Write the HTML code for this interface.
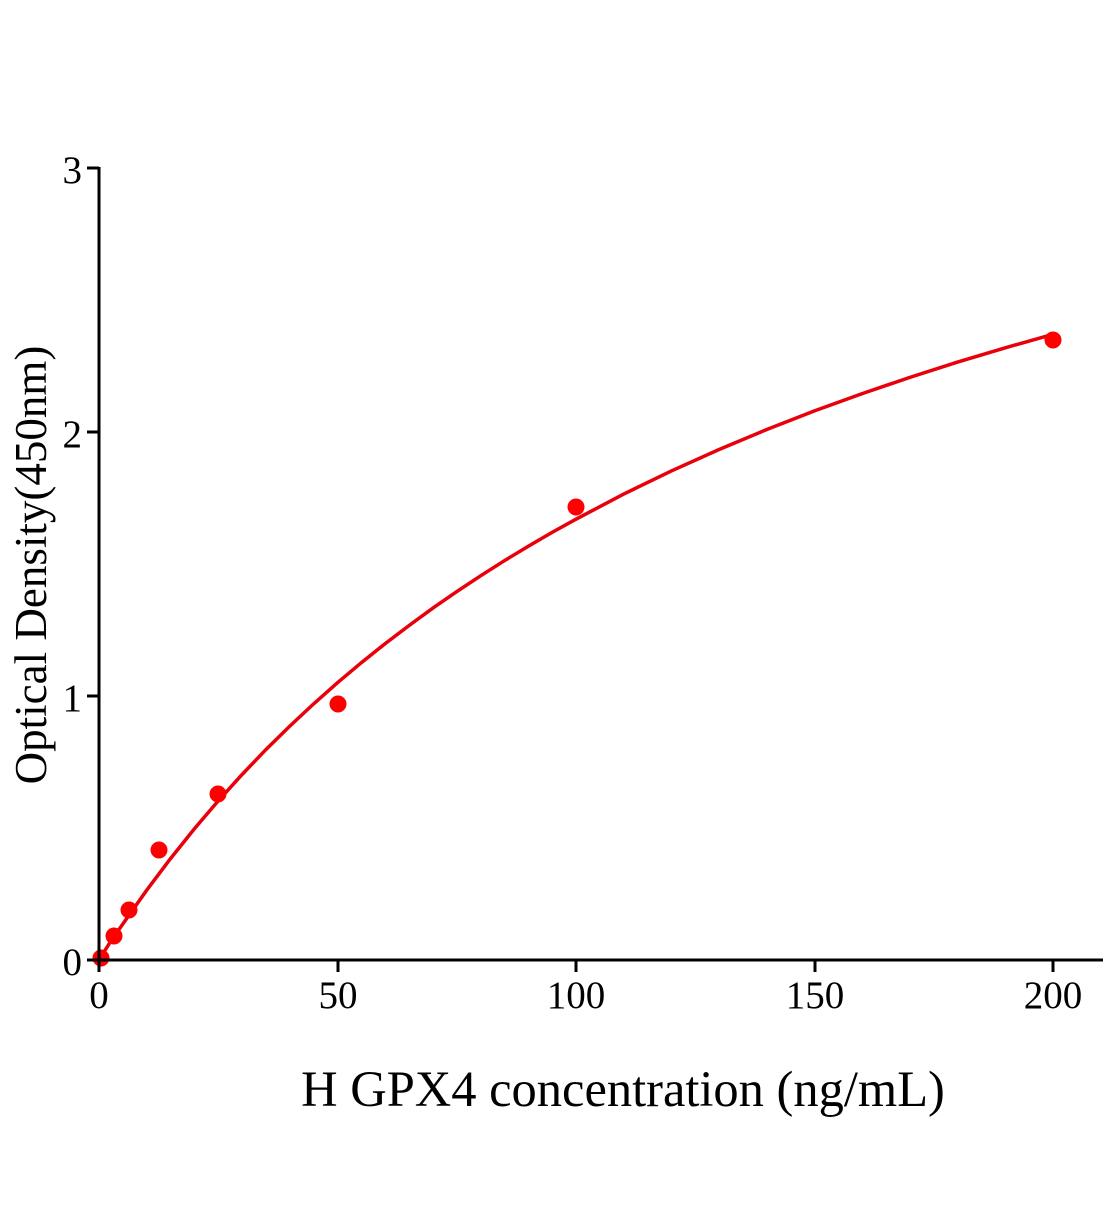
<!DOCTYPE html>
<html><head><meta charset="utf-8"><style>html,body{margin:0;padding:0;background:#fff}</style></head>
<body>
<svg width="1104" height="1200" xmlns="http://www.w3.org/2000/svg" font-family="Liberation Serif, serif">
<rect width="1104" height="1200" fill="#fff"/>
<polyline fill="none" stroke="#e8000b" stroke-width="3.5" points="99,960 110.9,941 122.9,923.9 146.7,890.2 170.6,858.5 194.4,828.8 218.3,800.8 242.1,774.5 265.9,749.6 289.8,726.1 313.6,703.9 337.5,682.7 361.3,662.7 385.2,643.6 409.1,625.5 432.9,608.1 456.8,591.6 480.6,575.8 504.4,560.7 528.3,546.2 552.1,532.4 576,519.2 623.7,494.1 671.4,470.9 719.1,449.5 766.8,429.5 814.5,410.9 862.2,393.6 909.9,377.4 957.6,362.1 1005.3,347.8 1053,334.3"/>
<g fill="#f00">
<circle cx="101" cy="958" r="8.5"/>
<circle cx="114" cy="936" r="8.5"/>
<circle cx="129" cy="910" r="8.5"/>
<circle cx="159" cy="850" r="8.5"/>
<circle cx="218" cy="794" r="8.5"/>
<circle cx="338" cy="704" r="8.5"/>
<circle cx="576" cy="507" r="8.5"/>
<circle cx="1053" cy="340" r="8.5"/>
</g>
<g stroke="#000" stroke-width="3" fill="none">
<line x1="99" y1="167" x2="99" y2="961"/>
<line x1="87" y1="960" x2="1103" y2="960"/>
<line x1="87" y1="168" x2="99" y2="168"/>
<line x1="87" y1="432" x2="99" y2="432"/>
<line x1="87" y1="696" x2="99" y2="696"/>
<line x1="99" y1="960" x2="99" y2="972"/>
<line x1="338" y1="960" x2="338" y2="972"/>
<line x1="576" y1="960" x2="576" y2="972"/>
<line x1="815" y1="960" x2="815" y2="972"/>
<line x1="1053" y1="960" x2="1053" y2="972"/>
</g>
<g font-size="39" fill="#000" text-anchor="end">
<text x="82" y="183">3</text>
<text x="82" y="447">2</text>
<text x="82" y="711">1</text>
<text x="82" y="975">0</text>
</g>
<g font-size="39" fill="#000" text-anchor="middle">
<text x="99" y="1008">0</text>
<text x="338" y="1008">50</text>
<text x="576" y="1008">100</text>
<text x="815" y="1008">150</text>
<text x="1053" y="1008">200</text>
</g>
<text x="623" y="1106" font-size="50.5" text-anchor="middle">H GPX4 concentration (ng/mL)</text>
<text transform="translate(46,565) rotate(-90)" font-size="45" text-anchor="middle">Optical Density(450nm)</text>
</svg>
</body></html>
